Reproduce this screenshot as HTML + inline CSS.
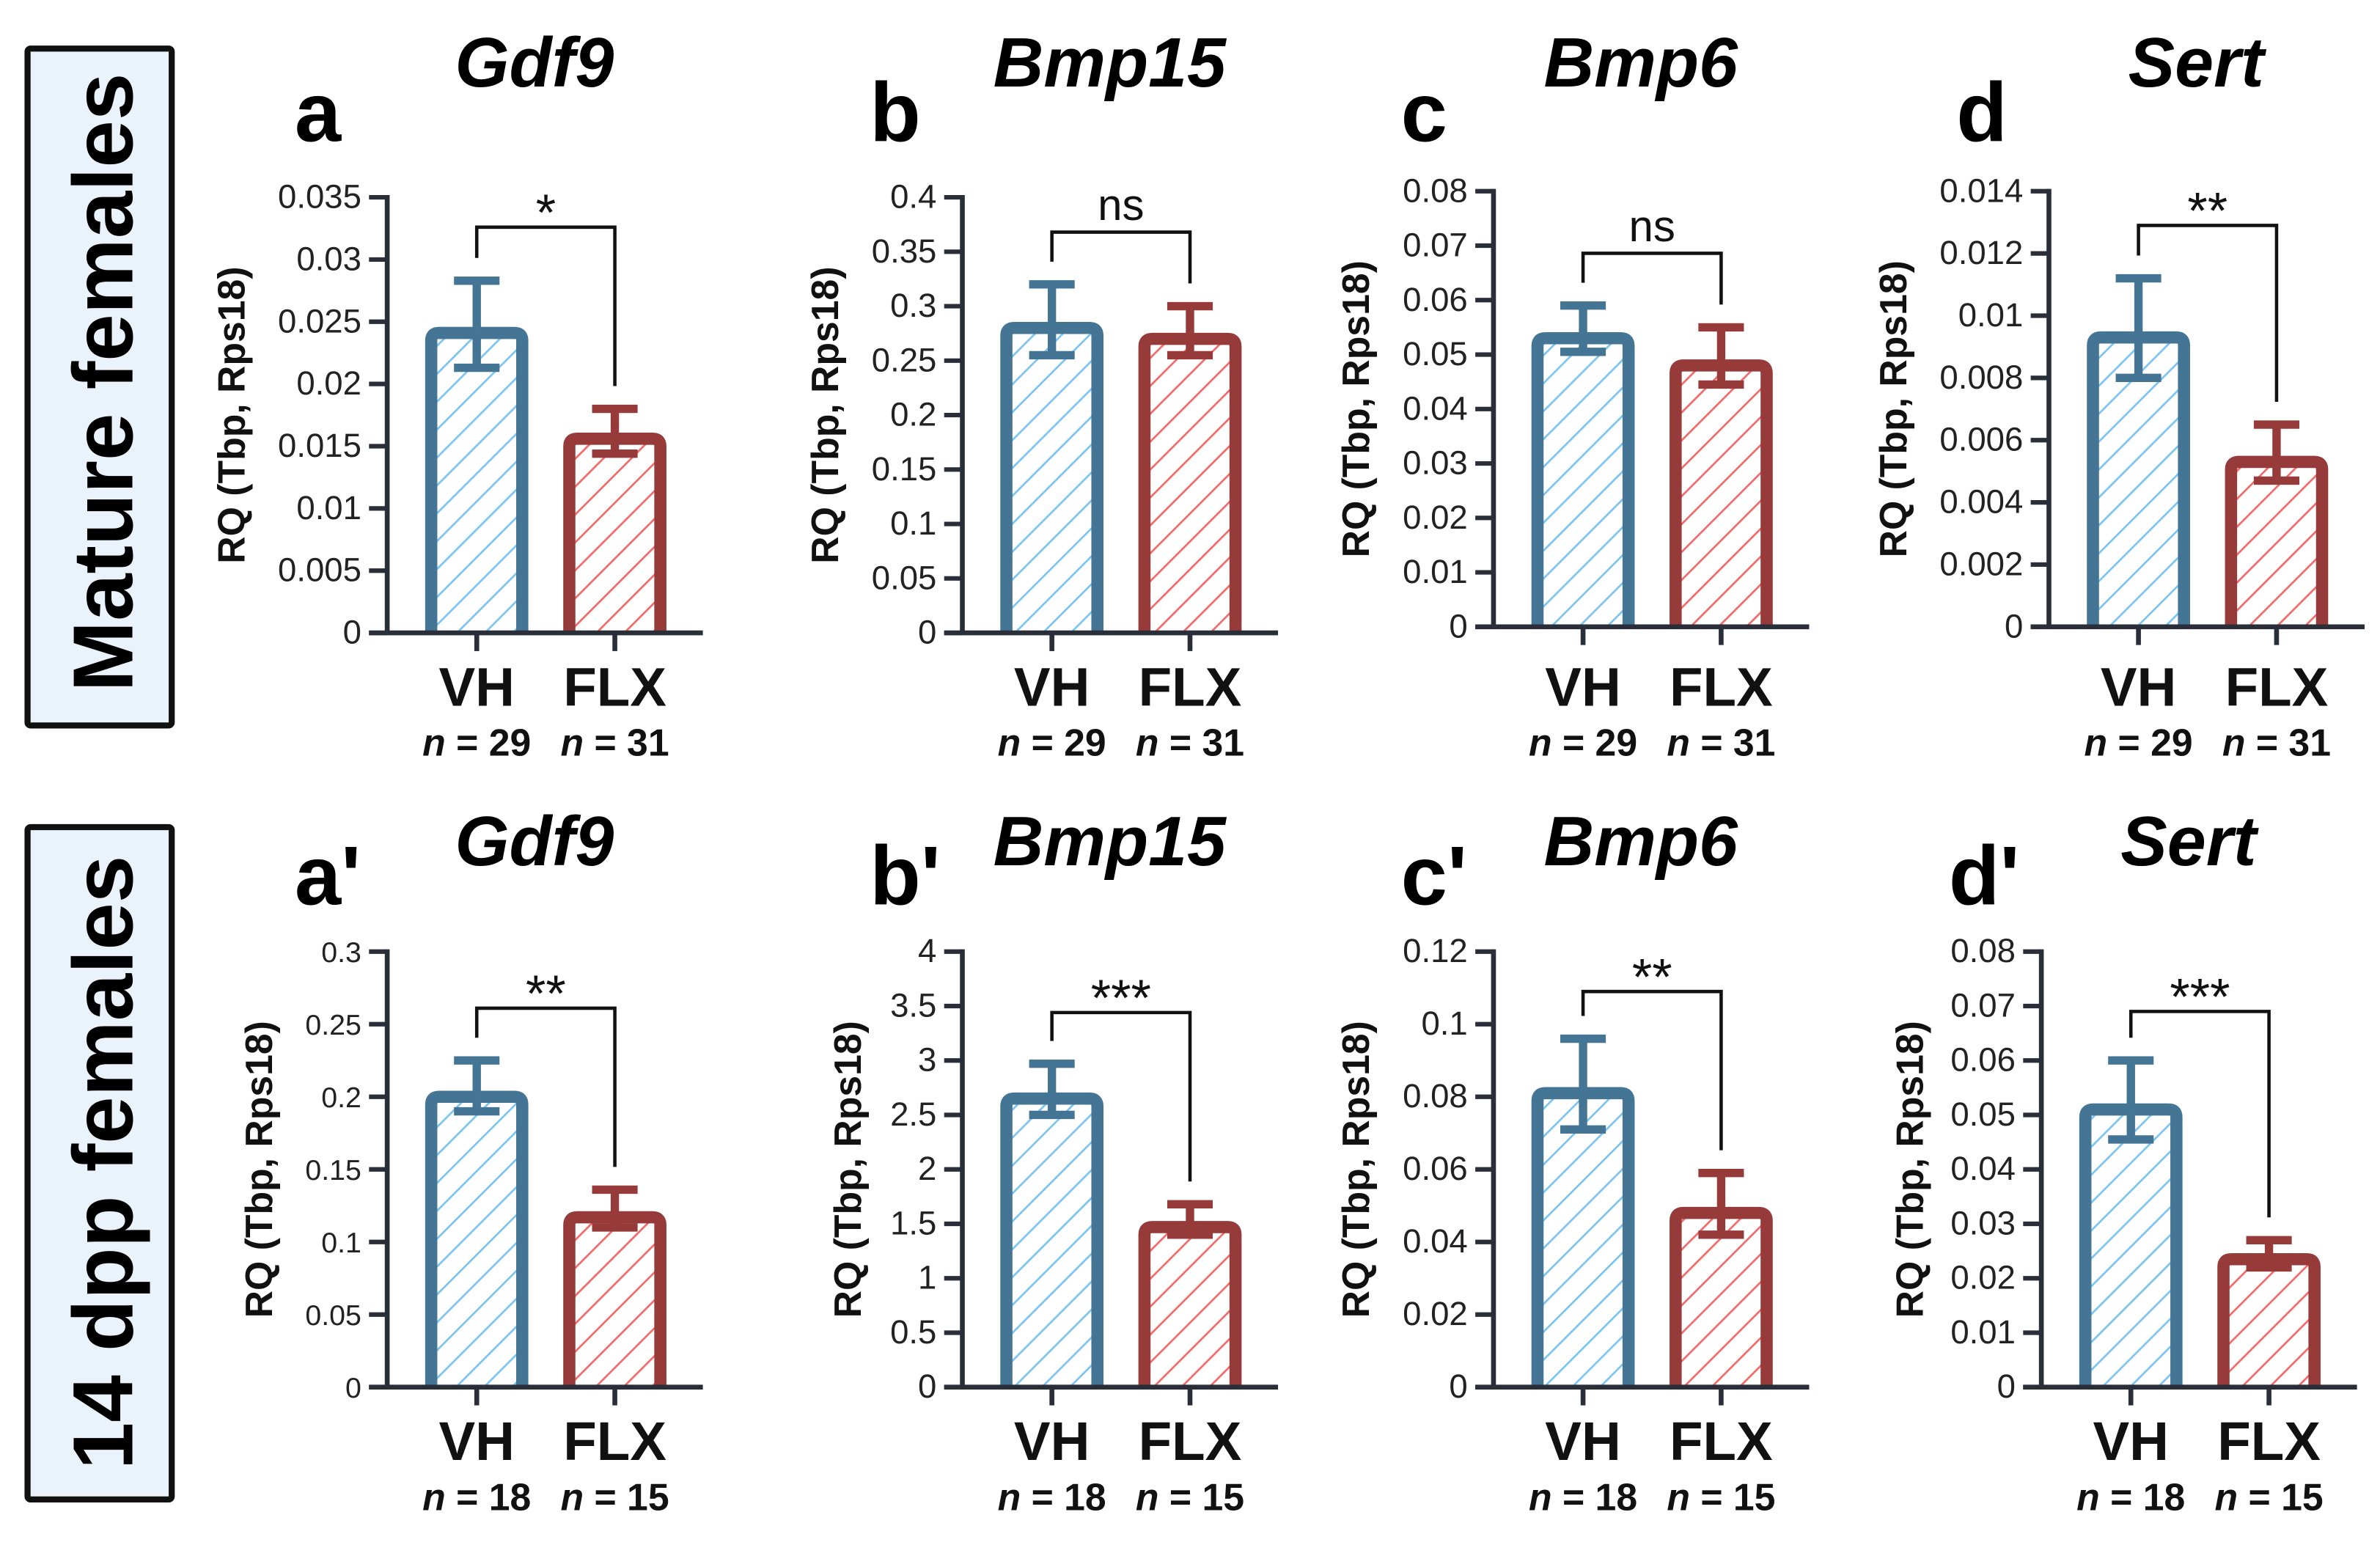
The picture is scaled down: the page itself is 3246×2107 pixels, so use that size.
<!DOCTYPE html>
<html><head><meta charset="utf-8"><style>
html,body{margin:0;padding:0;background:#fff;}
svg{display:block;}
text{font-family:"Liberation Sans",sans-serif;}
</style></head><body>
<svg id="fig" width="3246" height="2107" viewBox="0 0 1568 1018" xmlns="http://www.w3.org/2000/svg">
<defs>
<pattern id="hb" patternUnits="userSpaceOnUse" width="13" height="13" patternTransform="rotate(45)"><rect width="13" height="13" fill="#fff"/><line x1="0" y1="0" x2="0" y2="13" stroke="#7cc4ee" stroke-width="2.6"/></pattern>
<pattern id="hr" patternUnits="userSpaceOnUse" width="13" height="13" patternTransform="rotate(45)"><rect width="13" height="13" fill="#fff"/><line x1="0" y1="0" x2="0" y2="13" stroke="#f26a6a" stroke-width="2.6"/></pattern>
</defs>
<g>
<rect x="18" y="32" width="95" height="446" fill="#eaf2fc" stroke="#111" stroke-width="4" rx="2"/>
<text x="0" y="0" transform="translate(87,252) rotate(-90)" text-anchor="middle" font-size="56" font-weight="bold">Mature females</text>
</g>
<g>
<rect x="18" y="545" width="95" height="443" fill="#eaf2fc" stroke="#111" stroke-width="4" rx="2"/>
<text x="0" y="0" transform="translate(87,766) rotate(-90)" text-anchor="middle" font-size="56" font-weight="bold">14 dpp females</text>
</g>
<g id="panels"></g>
</svg>
<script>
const panelIds=["a","b","c","d","a2","b2","c2","d2"];
const panelLetters=["a","b","c","d","a'","b'","c'","d'"];
const genes=["Gdf9","Bmp15","Bmp6","Sert","Gdf9","Bmp15","Bmp6","Sert"];
const yMax=[0.035,0.4,0.08,0.014,0.3,4,0.12,0.08];
const yStep=[0.005,0.05,0.01,0.002,0.05,0.5,0.02,0.01];
const vhMean=[0.0241,0.28,0.053,0.0093,0.2,2.65,0.081,0.051];
const vhLo=[0.0213,0.255,0.0505,0.008,0.19,2.5,0.071,0.0455];
const vhHi=[0.0283,0.32,0.059,0.0112,0.225,2.97,0.096,0.06];
const flxMean=[0.0156,0.27,0.048,0.0053,0.117,1.47,0.048,0.0235];
const flxLo=[0.0144,0.255,0.0445,0.0047,0.11,1.4,0.042,0.022];
const flxHi=[0.018,0.30,0.055,0.0065,0.136,1.68,0.059,0.027];
const sigLabels=["*","ns","ns","**","**","***","**","***"];
const bracketVals=[0.0326,0.368,0.0686,0.0129,0.261,3.44,0.109,0.069];
const nVH=["29","29","29","29","18","18","18","18"];
const nFLX=["31","31","31","31","15","15","15","15"];
const groups=["VH","FLX"];

const NS="http://www.w3.org/2000/svg";
const root=document.getElementById("panels");
function el(tag,attrs,parent,txt){const e=document.createElementNS(NS,tag);for(const k in attrs)e.setAttribute(k,attrs[k]);if(txt!==undefined)e.textContent=txt;parent.appendChild(e);return e;}
function fmt(v){return String(parseFloat(v.toFixed(6)));}

const colX=[314,693,1043,1409];
const rowTop=[130,627];const rowZero=[417,914];
const yTitleX=[152,543,893,1247,170,558,893,1258];
for(let i=0;i<8;i++){
  const r=i<4?0:1, c=i%4;
  const vx=colX[c]-(r===1&&c===3?5:0), fx=vx+91, ax=vx-59;
  const top=rowTop[r]-(c>=2&&r===0?4:0), zero=rowZero[r]-(c>=2&&r===0?4:0);
  const y=v=>zero-(v/yMax[i])*(zero-top);
  const g=el("g",{},root);
  
  
  const tt=el("text",{x:vx+38,y:r?570:57,"text-anchor":"middle","font-size":46,"font-weight":"bold","font-style":"italic"},g,genes[i]);
  
  
  const lt=el("text",{x:vx-120,y:r?596:93,"font-size":55,"font-weight":"bold"},g,panelLetters[i]);
  
  
  const yt=el("text",{transform:`translate(${yTitleX[i]+9},${(top+zero)/2}) rotate(-90)`,"text-anchor":"middle","font-size":25,"font-weight":"bold",fill:"#111"},g,"RQ (Tbp, Rps18)");
  
  
  const nt=Math.round(yMax[i]/yStep[i]);
  const fs=(i===4)?19:22;
  for(let k=0;k<=nt;k++){
    const v=k*yStep[i], yy=y(v);
    el("line",{x1:ax-12,x2:ax,y1:yy,y2:yy,stroke:"#2a2e38","stroke-width":3},g);
    const tl=el("text",{x:ax-17,y:yy+7,"text-anchor":"end","font-size":fs,fill:"#222"},g,fmt(v));
    
    
  }
  const yax=el("line",{x1:ax,x2:ax,y1:top-1.5,y2:zero,stroke:"#2a2e38","stroke-width":3.2},g);
  
  
  const means=[vhMean[i],flxMean[i]],los=[vhLo[i],flxLo[i]],his=[vhHi[i],flxHi[i]];
  const xs=[vx,fx],strokes=["#447594","#963a3a"],fills=["url(#hb)","url(#hr)"];
  for(let b=0;b<2;b++){
    const yb=y(means[b]);
    const bar=el("path",{d:`M${xs[b]-30},${zero} L${xs[b]-30},${yb+5} Q${xs[b]-30},${yb} ${xs[b]-25},${yb} L${xs[b]+25},${yb} Q${xs[b]+30},${yb} ${xs[b]+30},${yb+5} L${xs[b]+30},${zero}`,fill:fills[b],stroke:strokes[b],"stroke-width":8},g);
    
    
    const eb=el("g",{stroke:strokes[b],"stroke-width":5.5},g);
    
    
    el("line",{x1:xs[b],x2:xs[b],y1:y(his[b]),y2:y(los[b])},eb);
    el("line",{x1:xs[b]-15,x2:xs[b]+15,y1:y(his[b]),y2:y(his[b])},eb);
    el("line",{x1:xs[b]-15,x2:xs[b]+15,y1:y(los[b]),y2:y(los[b])},eb);
    el("line",{x1:xs[b],x2:xs[b],y1:zero,y2:zero+12,stroke:"#2a2e38","stroke-width":3.2},g);
    const xl=el("text",{x:xs[b],y:r?962:465,"text-anchor":"middle","font-size":36,"font-weight":"bold",fill:"#111"},g,groups[b]);
    
    
    const nl=el("text",{x:xs[b],y:r?995:498,"text-anchor":"middle","font-size":25,"font-weight":"bold",fill:"#111"},g);
    
    
    el("tspan",{"font-style":"italic"},nl,"n");
    el("tspan",{},nl," = "+(b?nFLX[i]:nVH[i]));
  }
  const xax=el("line",{x1:ax-12,x2:fx+58,y1:zero,y2:zero,stroke:"#2a2e38","stroke-width":3.2},g);
  
  
  const by=y(bracketVals[i]);
  const br=el("path",{d:`M${vx},${y(vhHi[i])-15} L${vx},${by} L${fx},${by} L${fx},${y(flxHi[i])-15}`,fill:"none",stroke:"#111","stroke-width":2.2},g);
  
  
  const sg=el("text",{x:(vx+fx)/2,y:sigLabels[i]==="ns"?by-8:by+2,"text-anchor":"middle","font-size":sigLabels[i]==="ns"?29:34,fill:"#111"},g,sigLabels[i]);
  
  
}
</script>
</body></html>
